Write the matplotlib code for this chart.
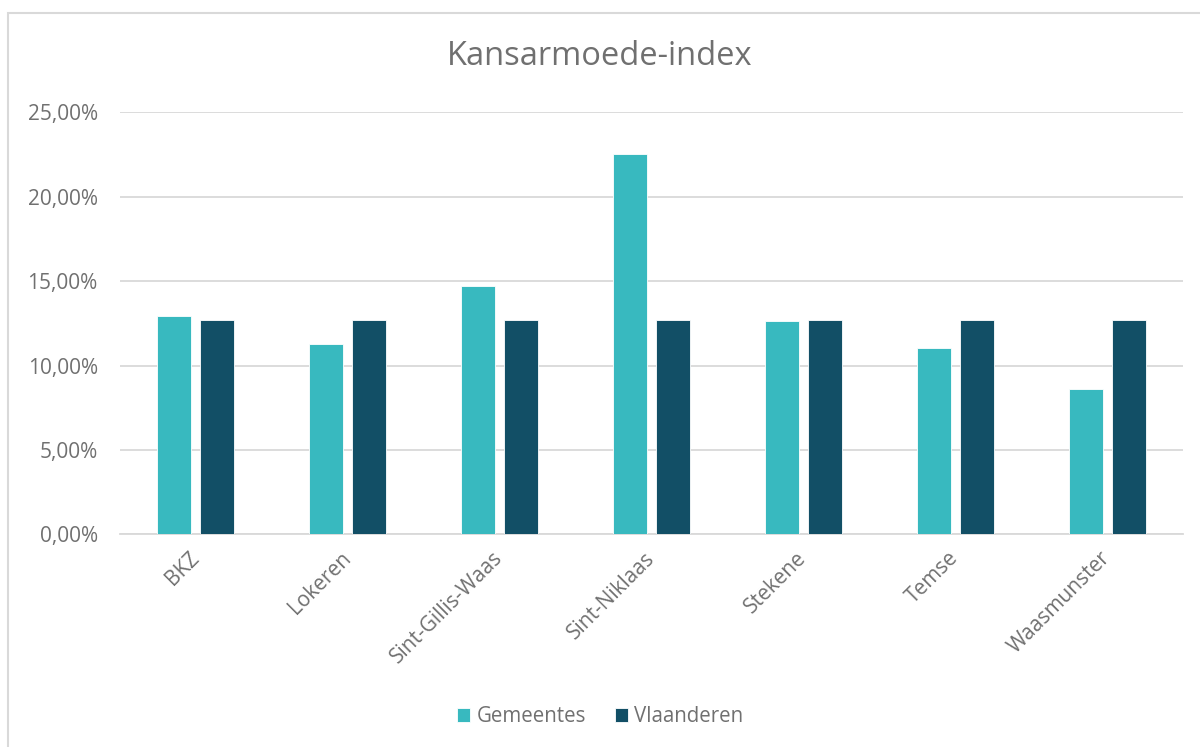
import matplotlib
matplotlib.use("Agg")
import matplotlib.pyplot as plt
import numpy as np
from matplotlib.patches import Rectangle
from matplotlib.ticker import FuncFormatter

plt.rcParams["font.family"] = ["Open Sans", "DejaVu Sans"]

categories = ["BKZ", "Lokeren", "Sint-Gillis-Waas", "Sint-Niklaas",
              "Stekene", "Temse", "Waasmunster"]
gemeentes = [12.93, 11.25, 14.71, 22.51, 12.64, 11.02, 8.61]
vlaanderen = [12.71, 12.71, 12.71, 12.71, 12.71, 12.71, 12.71]

C_GEM = "#38B9BF"
C_VLA = "#124F66"
TXT = "#707070"
GRID = "#D9D9D9"

fig = plt.figure(figsize=(12, 7.47), dpi=100)
# chart frame (light border)
fig.patches.append(Rectangle((8 / 1200, -0.1), 1.2, 1 - 13 / 747 + 0.1,
                             transform=fig.transFigure, fill=False,
                             edgecolor=GRID, lw=1.5))

ax = fig.add_axes([0.1, 0.2847, 0.886, 0.5650])
x = np.arange(len(categories))
w = 0.224
off = 0.1415
ax.bar(x - off, gemeentes, w, color=C_GEM, edgecolor="white", lw=0.6,
       label="Gemeentes", zorder=3)
ax.bar(x + off, vlaanderen, w, color=C_VLA, edgecolor="white", lw=0.6,
       label="Vlaanderen", zorder=3)

ax.set_xlim(-0.5, len(categories) - 0.5)
ax.set_ylim(0, 25)
ax.set_yticks(np.arange(0, 26, 5))
ax.yaxis.set_major_formatter(FuncFormatter(lambda v, p: f"{v:.2f}%".replace(".", ",")))
ax.grid(axis="y", color=GRID, lw=1.3, zorder=0)
for s in ("top", "right", "left"):
    ax.spines[s].set_visible(False)
ax.spines["bottom"].set_color(GRID)
ax.spines["bottom"].set_linewidth(1.3)
ax.tick_params(axis="both", length=0, colors=TXT, labelsize=15)
ax.tick_params(axis="y", pad=16)
ax.set_xticks(x)
ax.set_xticklabels(categories, rotation=45, ha="right", va="center",
                   rotation_mode="anchor")
ax.tick_params(axis="x", pad=15)

fig.text(0.5, 0.925, "Kansarmoede-index", ha="center", va="center",
         fontsize=23.5, color=TXT)

leg = ax.legend(loc="center", bbox_to_anchor=(0.5, 1 - 717 / 747),
                bbox_transform=fig.transFigure, ncol=2, frameon=False,
                fontsize=14.8, handlelength=0.65, handleheight=0.65,
                handletextpad=0.3, columnspacing=1.4)
for t in leg.get_texts():
    t.set_color(TXT)

fig.savefig("out.png", dpi=100)
